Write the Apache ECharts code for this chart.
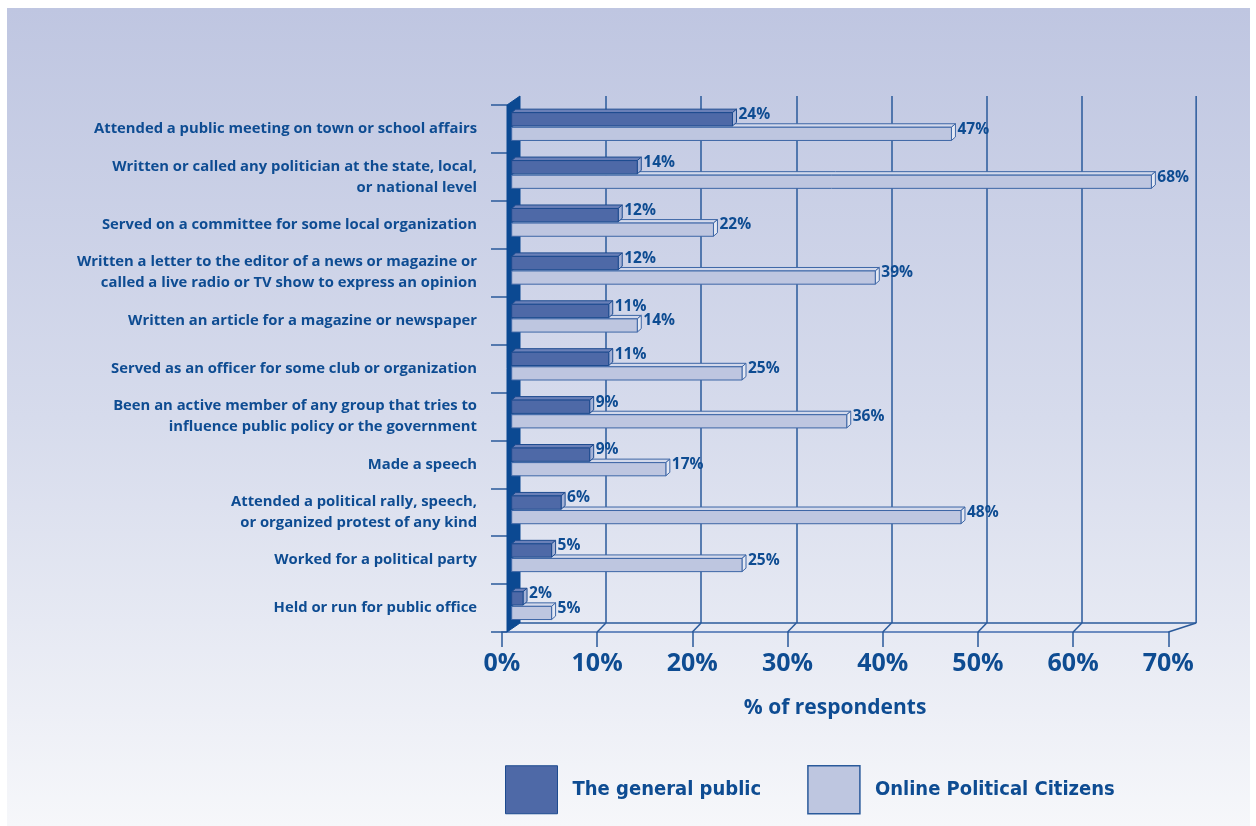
<!DOCTYPE html>
<html>
<head>
<meta charset="utf-8">
<title>Civic activities</title>
<script src="https://cdn.jsdelivr.net/npm/echarts@6/dist/echarts.min.js"></script>
<style>
  html, body { margin: 0; padding: 0; background: #ffffff; }
  #chart { width: 1256px; height: 826px; }
</style>
</head>
<body>
<div id="chart"></div>
<script>
// Activities (top to bottom)
const categories = [
  'Attended a public meeting on town or school affairs',
  'Written or called any politician at the state, local,\nor national level',
  'Served on a committee for some local organization',
  'Written a letter to the editor of a news or magazine or\ncalled a live radio or TV show to express an opinion',
  'Written an article for a magazine or newspaper',
  'Served as an officer for some club or organization',
  'Been an active member of any group that tries to\ninfluence public policy or the government',
  'Made a speech',
  'Attended a political rally, speech,\nor organized protest of any kind',
  'Worked for a political party',
  'Held or run for public office'
];
const generalPublic = [24, 14, 12, 12, 11, 11, 9, 9, 6, 5, 2];
const onlineCitizens = [47, 68, 22, 39, 14, 25, 36, 17, 48, 25, 5];
const seriesNames = ['The general public', 'Online Political Citizens'];
const axisTicks = [0, 10, 20, 30, 40, 50, 60, 70];
const axisMax = 70;
const backWallEnd = 72;   // right edge of the back wall, in axis units

const INK = '#0e4c92';
const LINE = '#2a5a9b';
const FONT = "'Open Sans'";
const LEGEND_FONT = "'DejaVu Sans Condensed', Roboto, sans-serif";

// pseudo-3D depth of the box and of the bars
const BOX_DX = 8.7, BOX_DY = 9;
const BAR_DX = 4, BAR_DY = 3.5;

const darkStyle = { front: '#4e69a7', top: '#6a80b8', side: '#a3b1d6', stroke: '#1d4b8f' };
const lightStyle = { front: '#bec6e0', top: '#d3d9eb', side: '#e4e8f3', stroke: '#3d66a6' };

function barRenderer(offsetTop, faceH, st) {
  return function (params, api) {
    const v = api.value(0), i = api.value(1);
    const base = api.coord([0, i]);
    const end = api.coord([v, i]);
    const x0 = base[0] + 7.7;
    const xe = end[0];
    const top = end[1] + offsetTop;
    const bot = top + faceH;
    const lw = { stroke: st.stroke, lineWidth: 1 };
    return {
      type: 'group',
      children: [
        { type: 'polygon', shape: { points: [[x0, top], [x0 + BAR_DX, top - BAR_DY], [xe + BAR_DX, top - BAR_DY], [xe, top]] },
          style: Object.assign({ fill: st.top }, lw) },
        { type: 'polygon', shape: { points: [[xe, top], [xe + BAR_DX, top - BAR_DY], [xe + BAR_DX, bot - BAR_DY], [xe, bot]] },
          style: Object.assign({ fill: st.side }, lw) },
        { type: 'rect', shape: { x: x0, y: top, width: xe - x0, height: faceH },
          style: Object.assign({ fill: st.front }, lw) },
        { type: 'text', style: { text: v + '%', x: xe + BAR_DX + 2, y: top + 2, align: 'left', verticalAlign: 'middle',
          fill: INK, font: 'bold 15.5px ' + FONT } }
      ]
    };
  };
}

function frameRenderer(params, api) {
  const yBot = api.coord([0, 0])[1];
  const yTop = api.coord([0, 1])[1];
  const b0 = api.coord([0, 0])[0];
  const xr = api.coord([backWallEnd, 0])[0];
  const ln = { stroke: LINE, lineWidth: 1.5 };
  const children = [];
  // floor, back edge
  children.push({ type: 'line', shape: { x1: b0 + 9.3, y1: yBot, x2: xr, y2: yBot }, style: ln });
  // right edge of the back wall
  children.push({ type: 'line', shape: { x1: xr, y1: yTop, x2: xr, y2: yBot }, style: ln });
  // floor diagonals joining the front ticks to the back grid
  axisTicks.forEach(function (t) {
    if (t === 0) return;
    const bx = api.coord([t, 0])[0];
    const backX = t === axisMax ? xr : bx;
    children.push({ type: 'line', shape: { x1: bx - BOX_DX, y1: yBot + BOX_DY, x2: backX, y2: yBot }, style: ln });
  });
  // left wall
  children.push({ type: 'polygon', shape: { points: [
      [b0 - 3.7, yBot + BOX_DY], [b0 + 9.3, yBot], [b0 + 9.3, yTop], [b0 - 3.7, yTop + BOX_DY]] },
    style: { fill: '#0b4992', stroke: '#0b4992', lineWidth: 1 } });
  return { type: 'group', children: children };
}

const chart = echarts.init(document.getElementById('chart'));

const plotTop = 105, plotH = 527, plotW = 666.4;

chart.setOption({
  backgroundColor: '#ffffff',
  animation: false,
  graphic: [{
    type: 'rect', z: -10, silent: true,
    shape: { x: 7, y: 8, width: 1243, height: 818 },
    style: { fill: new echarts.graphic.LinearGradient(0, 0, 0, 1, [
      { offset: 0, color: '#bfc6e1' }, { offset: 0.5, color: '#d6dbec' }, { offset: 1, color: '#f6f7fa' }]) }
  }],
  legend: {
    left: 505, top: 765, padding: 0,
    itemWidth: 52, itemHeight: 48, itemGap: 46,
    icon: 'rect',
    selectedMode: false,
    textStyle: { color: INK, fontFamily: LEGEND_FONT, fontWeight: 'bold', fontSize: 20, padding: [0, 0, 0, 10] },
    data: [
      { name: seriesNames[0], itemStyle: { color: darkStyle.front, borderColor: '#1d4b8f', borderWidth: 1 } },
      { name: seriesNames[1], itemStyle: { color: lightStyle.front, borderColor: '#2a5a9b', borderWidth: 1.5 } }
    ]
  },
  grid: [
    // bar plane
    { left: 504, top: plotTop, width: plotW, height: plotH },
    // back wall plane
    { left: 504 + 6.7, top: plotTop - BOX_DY, width: plotW, height: plotH },
    // front edge plane
    { left: 504 - 2.1, top: plotTop, width: plotW, height: plotH }
  ],
  xAxis: [
    { gridIndex: 0, type: 'value', min: 0, max: axisMax, interval: 10, show: false },
    { gridIndex: 1, type: 'value', min: 0, max: axisMax, interval: 10,
      axisLine: { show: false }, axisTick: { show: false }, axisLabel: { show: false },
      splitLine: { show: true, showMinLine: false, showMaxLine: false, lineStyle: { color: LINE, width: 1.5 } } },
    { gridIndex: 2, type: 'value', min: 0, max: axisMax, interval: 10,
      axisLine: { show: true, lineStyle: { color: '#6b8bc0', width: 2 } },
      axisTick: { show: true, length: 15, lineStyle: { color: LINE, width: 1.5 } },
      splitLine: { show: false },
      axisLabel: { margin: 19, color: INK, fontFamily: FONT, fontWeight: 'bold', fontSize: 25,
        formatter: function (v) { return v + '%'; } },
      name: '% of respondents', nameLocation: 'middle', nameGap: 66,
      nameTextStyle: { color: INK, fontFamily: FONT, fontWeight: 'bold', fontSize: 21 } }
  ],
  yAxis: [
    { gridIndex: 0, type: 'category', inverse: true, data: categories, offset: -3,
      axisLine: { show: false },
      axisTick: { show: true, length: 16, lineStyle: { color: LINE, width: 1.5 } },
      axisLabel: { margin: 30, color: INK, fontFamily: FONT, fontWeight: 'bold', fontSize: 14.8, lineHeight: 21, align: 'right' } },
    { gridIndex: 1, type: 'value', min: 0, max: 1, show: false },
    { gridIndex: 2, type: 'value', min: 0, max: 1, show: false }
  ],
  series: [
    { type: 'custom', name: 'frame', xAxisIndex: 1, yAxisIndex: 1, silent: true, z: 1,
      renderItem: frameRenderer, data: [[0, 0]] },
    { type: 'custom', name: seriesNames[1], xAxisIndex: 0, yAxisIndex: 0, z: 3,
      itemStyle: { color: lightStyle.front },
      renderItem: barRenderer(-1.7, 13.2, lightStyle),
      encode: { x: 0, y: 1 },
      data: onlineCitizens.map(function (v, i) { return [v, i]; }) },
    { type: 'custom', name: seriesNames[0], xAxisIndex: 0, yAxisIndex: 0, z: 4,
      itemStyle: { color: darkStyle.front },
      renderItem: barRenderer(-16.3, 13.3, darkStyle),
      encode: { x: 0, y: 1 },
      data: generalPublic.map(function (v, i) { return [v, i]; }) }
  ]
});
</script>
</body>
</html>
